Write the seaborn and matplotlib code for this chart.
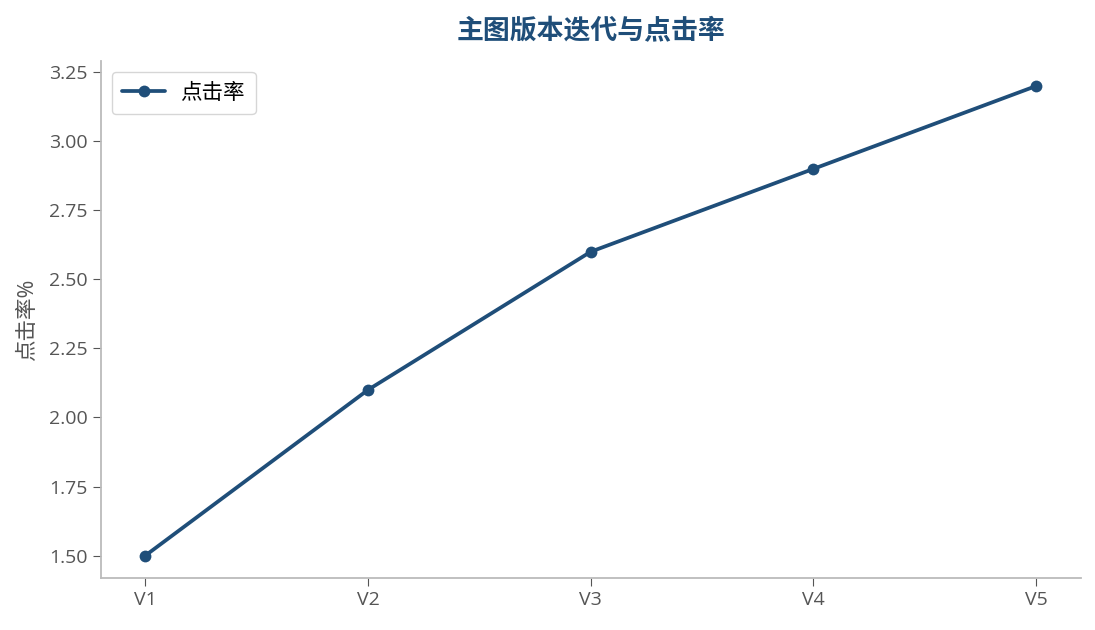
import matplotlib
matplotlib.use("Agg")
import matplotlib.pyplot as plt
import seaborn as sns
import pandas as pd

# data
versions = ["V1", "V2", "V3", "V4", "V5"]
ctr = [1.5, 2.1, 2.6, 2.9, 3.2]

color = "#1f4e79"

sns.set_style("white")
plt.rcParams['font.family'] = ['Open Sans', 'Noto Sans CJK SC', 'DejaVu Sans']

df = pd.DataFrame({"版本": versions, "点击率": ctr})

fig, ax = plt.subplots(figsize=(10.95, 6.3), dpi=100)
sns.lineplot(data=df, x="版本", y="点击率", ax=ax, color=color, linewidth=2.7,
             marker="o", markersize=8.5, markeredgewidth=0, label="点击率", sort=False)

ax.set_title("主图版本迭代与点击率", fontsize=19.4, fontweight="bold", color=color, pad=16)
ax.set_xlabel("")
ax.set_ylabel("点击率%", fontsize=15.5, color="#555555", labelpad=8)
ax.set_yticks([1.5, 1.75, 2.0, 2.25, 2.5, 2.75, 3.0, 3.25])
ax.set_ylim(1.42, 3.29)
ax.set_xlim(-0.2, 4.2)
ax.tick_params(axis="both", labelsize=14, colors="#555555", length=6, color="#555555",
               left=True, bottom=True)
ax.yaxis.set_major_formatter(matplotlib.ticker.FormatStrFormatter("%.2f"))

sns.despine(ax=ax)
for s in ["left", "bottom"]:
    ax.spines[s].set_color("#bbbbbb")
    ax.spines[s].set_linewidth(1.3)

leg = ax.legend(loc="upper left", fontsize=15.5, frameon=True, borderpad=0.5,
                handletextpad=0.7)
leg.get_frame().set_edgecolor("#cccccc")
for t in leg.get_texts():
    t.set_color("black")

plt.subplots_adjust(left=0.092, right=0.987, top=0.903, bottom=0.083)
plt.savefig("out.png", dpi=100)
